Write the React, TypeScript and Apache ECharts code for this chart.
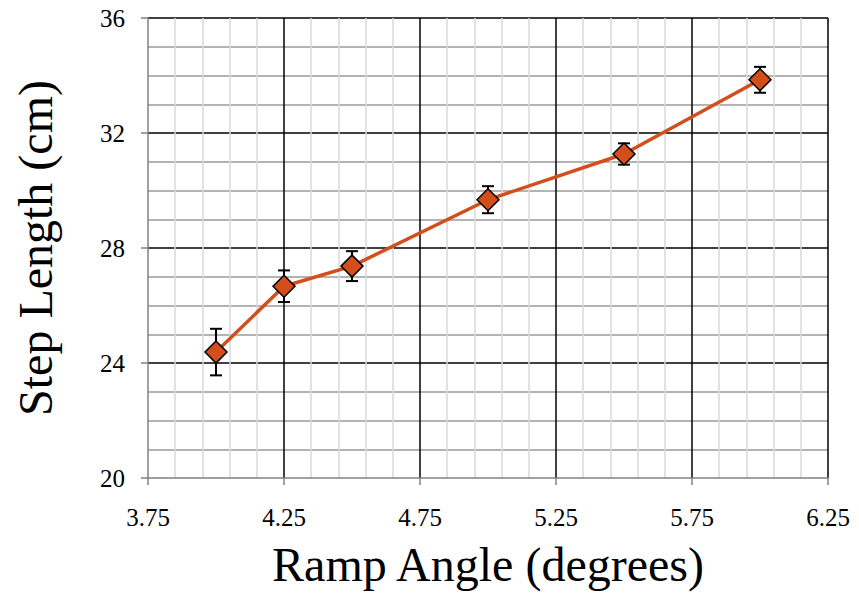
import React, { useEffect, useRef } from "react";
import * as echarts from "echarts";

const rampAngles = [4.0, 4.25, 4.5, 5.0, 5.5, 6.0];
const stepLengths = [24.38, 26.67, 27.37, 29.68, 31.27, 33.85];
const stepErrors = [0.81, 0.55, 0.52, 0.47, 0.37, 0.45];

const xTitle = "Ramp Angle (degrees)";
const yTitle = "Step Length (cm)";

const FONT = "'Liberation Serif', 'Times New Roman', serif";
const ORANGE = "#D34E1A";

export default function App() {
  const ref = useRef<HTMLDivElement>(null);

  useEffect(() => {
    if (!ref.current) return;
    const chart = echarts.init(ref.current, undefined, { renderer: "svg" });

    const errorData = rampAngles.map((x, i) => [
      x,
      stepLengths[i] - stepErrors[i],
      stepLengths[i] + stepErrors[i],
    ]);
    const lineData = rampAngles.map((x, i) => [x, stepLengths[i]]);

    const option: any = {
      animation: false,
      backgroundColor: "#ffffff",
      textStyle: { fontFamily: FONT },
      grid: { left: 148, right: 31, top: 18, bottom: 117, containLabel: false },
      xAxis: {
        type: "value",
        min: 3.75,
        max: 6.25,
        interval: 0.5,
        name: xTitle,
        nameLocation: "middle",
        nameGap: 62,
        nameTextStyle: { fontFamily: FONT, fontSize: 48, color: "#000" },
        axisLine: { show: true, lineStyle: { color: "#808080", width: 1.5 } },
        axisTick: { show: true, length: 7, lineStyle: { color: "#808080", width: 1.5 } },
        axisLabel: {
          fontFamily: FONT,
          fontSize: 25,
          color: "#000",
          margin: 27,
          formatter: (v: number) => v.toFixed(2),
        },
        splitLine: {
          show: true,
          showMinLine: false,
          lineStyle: { color: "#000", width: 1.5 },
        },
        minorTick: { show: false, splitNumber: 5 },
        minorSplitLine: { show: true, lineStyle: { color: "#d9d9d9", width: 1.5 } },
      },
      yAxis: {
        type: "value",
        min: 20,
        max: 36,
        interval: 4,
        name: yTitle,
        nameLocation: "middle",
        nameGap: 89,
        nameTextStyle: { fontFamily: FONT, fontSize: 48, color: "#000" },
        axisLine: { show: true, lineStyle: { color: "#808080", width: 1.5 } },
        axisTick: { show: true, length: 7, lineStyle: { color: "#808080", width: 1.5 } },
        axisLabel: { fontFamily: FONT, fontSize: 25, color: "#000", margin: 23 },
        splitLine: {
          show: true,
          showMinLine: false,
          lineStyle: { color: "#000", width: 1.5 },
        },
        minorTick: { show: false, splitNumber: 4 },
        minorSplitLine: { show: true, lineStyle: { color: "#9a9a9a", width: 1.5 } },
      },
      series: [
        {
          type: "custom",
          z: 2,
          data: errorData,
          renderItem: (params: any, api: any) => {
            const x = api.value(0);
            const lo = api.coord([x, api.value(1)]);
            const hi = api.coord([x, api.value(2)]);
            const half = 6;
            const style = { stroke: "#000", lineWidth: 2 };
            return {
              type: "group",
              children: [
                { type: "line", shape: { x1: lo[0], y1: lo[1], x2: hi[0], y2: hi[1] }, style },
                { type: "line", shape: { x1: lo[0] - half, y1: lo[1], x2: lo[0] + half, y2: lo[1] }, style },
                { type: "line", shape: { x1: hi[0] - half, y1: hi[1], x2: hi[0] + half, y2: hi[1] }, style },
              ],
            };
          },
        },
        {
          type: "line",
          z: 3,
          data: lineData,
          symbol: "diamond",
          symbolSize: 22,
          lineStyle: { color: ORANGE, width: 3.5 },
          itemStyle: { color: ORANGE, borderColor: "#000", borderWidth: 1.5 },
        },
      ],
    };

    chart.setOption(option);
    return () => chart.dispose();
  }, []);

  return (
    <div
      ref={ref}
      style={{ position: "fixed", left: 0, top: 0, width: 859, height: 595 }}
    />
  );
}
